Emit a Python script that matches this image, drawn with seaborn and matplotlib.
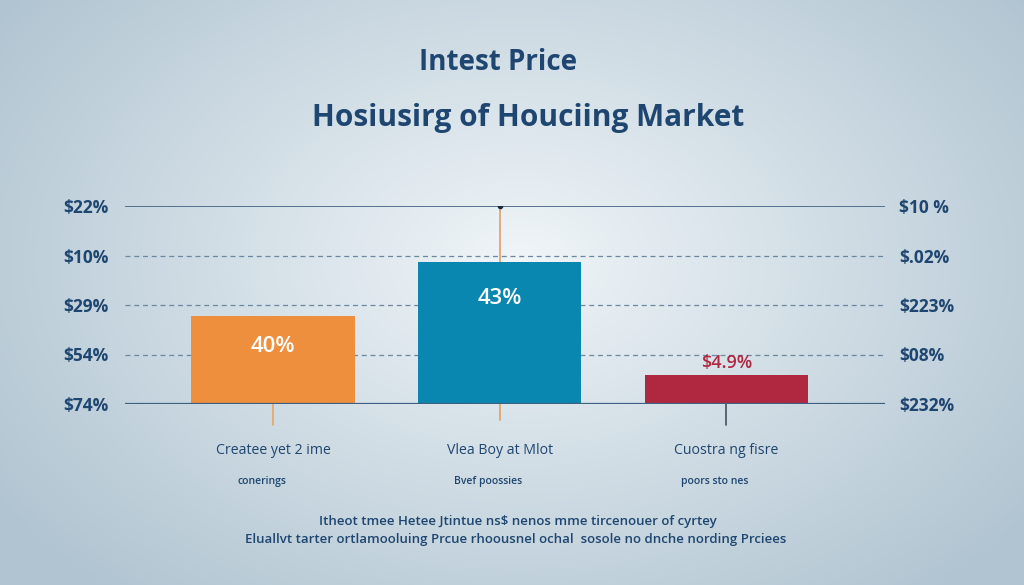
import numpy as np
import matplotlib
matplotlib.use("Agg")
import matplotlib.pyplot as plt
import seaborn as sns

# ---- data ----
categories = ["Createe yet 2 ime", "Vlea Boy at Mlot", "Cuostra ng fisre"]
subcaptions = ["conerings", "Bvef poossies", "poors sto nes"]
values = [1.78, 2.87, 0.59]
bar_labels = ["40%", "43%", "$4.9%"]
left_ticks = ["$74%", "$54%", "$29%", "$10%", "$22%"]
right_ticks = ["$232%", "$08%", "$223%", "$.02%", "$10 %"]
tick_positions = [0, 1, 2, 3, 4]
title_top = "Intest Price"
title_main = "Hosiusirg of Houciing Market"
footnote_1 = "Itheot tmee Hetee Jtintue ns$ nenos mme tircenouer of cyrtey"
footnote_2 = "Eluallvt tarter ortlamooluing Prcue rhoousnel ochal  sosole no dnche nording Prciees"

bar_colors = ["#ee8f3e", "#0a87b0", "#b0283f"]
stem_colors = ["#e9a45e", "#e0a060", "#44505e"]
navy = "#1e4670"

sns.set_theme(style="white")
plt.rcParams["font.family"] = ["Open Sans", "DejaVu Sans"]

W, H = 1024, 585
fig = plt.figure(figsize=(W / 100, H / 100), dpi=100)

# background radial gradient
bg = fig.add_axes([0, 0, 1, 1], zorder=-10)
yy, xx = np.mgrid[0:H, 0:W]
r = np.sqrt(((xx - 520) / 640) ** 2 + ((yy - 260) / 440) ** 2)
r = np.clip(r, 0, 1)
c_in = np.array([0xf0, 0xf5, 0xf8]) / 255
c_out = np.array([0xb0, 0xc4, 0xd1]) / 255
img = c_in[None, None, :] * (1 - r[..., None]) + c_out[None, None, :] * r[..., None]
bg.imshow(img, aspect="auto", extent=[0, 1, 0, 1])
bg.axis("off")

# main axes: x 125..885 px, y 206..404 px
ax = fig.add_axes([125 / W, (H - 404) / H, 760 / W, 198 / H])
ax.set_facecolor("none")
sns.barplot(x=categories, y=values, hue=categories, palette=bar_colors,
            legend=False, width=0.72, saturation=1, ax=ax, zorder=3,
            edgecolor="none", linewidth=0)
ax.set_xlim(-0.653, 2.70)
ax.set_ylim(0, 4)
for s in ax.spines.values():
    s.set_visible(False)

# grid lines
ax.axhline(4, color="#3d5f80", lw=1.2, zorder=1)
for yv in [1, 2, 3]:
    ax.axhline(yv, color="#6a88a2", lw=0.9, ls=(0, (4, 3)), zorder=1)
ax.axhline(0, color="#3d5f80", lw=1.6, zorder=4)

# stems
for i in range(3):
    ax.plot([i, i], [0, -0.42 if i != 1 else -0.33], color=stem_colors[i],
            lw=1.2, clip_on=False, zorder=2)
ax.plot([1, 1], [values[1], 4], color=stem_colors[1], lw=1.2, zorder=2)
ax.plot([1], [4], "o", color="#1a2a3a", ms=3, zorder=5)

# bar labels
label_y = [1.17, 2.14, 0.83]
label_c = ["white", "white", "#b0283f"]
label_s = [16, 16, 13]
for i in range(3):
    ax.text(i, label_y[i], bar_labels[i], ha="center", va="center",
            color=label_c[i], fontsize=label_s[i], fontweight="semibold", zorder=6)

# category labels
ax.set_xticks([])
ax.set_xlabel("")
for i in range(3):
    ax.text(i, -0.93, categories[i], ha="center", va="center", color=navy,
            fontsize=10.2, clip_on=False)
    ax.text(i - 0.05, -1.56, subcaptions[i], ha="center", va="center", color=navy,
            fontsize=7.5, fontweight="semibold", clip_on=False)

# y tick labels
ax.set_yticks(tick_positions)
ax.set_yticklabels(left_ticks, fontsize=12.5, fontweight="bold", color=navy)
ax.tick_params(axis="y", length=0, pad=12)
ax.set_ylabel("")
ax2 = ax.twinx()
ax2.set_ylim(0, 4)
ax2.set_yticks(tick_positions)
ax2.set_yticklabels(right_ticks, fontsize=12.5, fontweight="bold", color=navy)
ax2.tick_params(axis="y", length=0, pad=10)
for s in ax2.spines.values():
    s.set_visible(False)
ax2.set_facecolor("none")

# titles
fig.text(498 / W, 1 - 62 / H, title_top, ha="center", va="center",
         fontsize=20, fontweight="bold", color=navy)
fig.text(528 / W, 1 - 118 / H, title_main, ha="center", va="center",
         fontsize=21.5, fontweight="bold", color=navy)

# footnotes
fig.text(518 / W, 1 - 521 / H, footnote_1, ha="center", va="center",
         fontsize=9.5, fontweight="semibold", color=navy)
fig.text(516 / W, 1 - 540 / H, footnote_2, ha="center", va="center",
         fontsize=9.5, fontweight="semibold", color=navy)

fig.savefig("out.png", dpi=100)
